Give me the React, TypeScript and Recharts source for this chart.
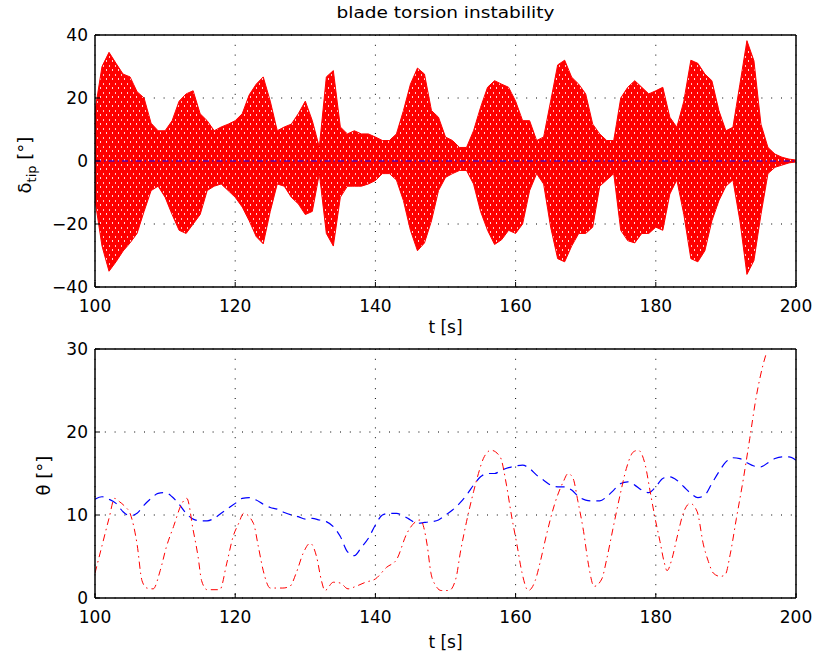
import React from 'react';
import { ComposedChart, LineChart, Area, Line, XAxis, YAxis, CartesianGrid } from 'recharts';

// time base (s) for the tip envelope and the blue theta trace
const tipTime = [
  100, 101, 102, 103, 104, 105, 106, 107, 108, 109, 110, 111, 112, 113, 114, 115, 116, 117, 118, 119,
  120, 121, 122, 123, 124, 125, 126, 127, 128, 129, 130, 131, 132, 133, 134, 135, 136, 137, 138, 139,
  140, 141, 142, 143, 144, 145, 146, 147, 148, 149, 150, 151, 152, 153, 154, 155, 156, 157, 158, 159,
  160, 161, 162, 163, 164, 165, 166, 167, 168, 169, 170, 171, 172, 173, 174, 175, 176, 177, 178, 179,
  180, 181, 182, 183, 184, 185, 186, 187, 188, 189, 190, 191, 192, 193, 194, 195, 196, 197, 198, 199,
  200,
];

// envelope of the red tip deflection signal (deg)
const tipUpper = [
  16, 30, 34.5, 31, 27.6, 26.7, 22, 20, 12, 9.6, 9.6, 12.8, 19, 21.3, 22.3, 15, 12.8, 9.6, 10.8, 11.7,
  12.8, 15, 21, 24.4, 26.7, 19, 9.6, 10.8, 11.7, 15, 19, 12.8, 4.4, 26.7, 28.7, 10.8, 8.6, 9.6, 8.6, 8.6,
  7.6, 6.5, 6.5, 8.6, 16, 24.4, 29.5, 27.6, 16, 13.9, 7.6, 6.5, 4.3, 4.3, 9.6, 17, 23.4, 25.5, 24.4, 23.4,
  19, 12.8, 12.8, 6.5, 7.6, 19, 30.5, 32, 26.6, 24.4, 21.3, 11.7, 8.6, 6.5, 6.5, 20, 23.4, 25.5, 23.4, 21.3,
  22.3, 23.4, 13.9, 10.7, 19, 32, 31, 27.6, 25.5, 16, 9.6, 10.7, 24.4, 38.2, 31.8, 11.7, 4.3, 2.2, 1.2, 0.6,
  0.3,
];
const tipLower = [
  -12.4, -27, -35, -32, -28.6, -26, -23, -16, -9.4, -8, -11.5, -17, -22, -23, -20, -17, -9.4, -8, -7.3, -9.4,
  -11.5, -14.6, -19, -24, -26.3, -16, -7.3, -8, -11.5, -13.6, -17, -16, -4, -23, -27, -11.5, -8, -8, -8, -7.3,
  -6.2, -4, -4, -6, -12.6, -22, -28.5, -26, -19, -9.4, -5.2, -4, -3, -3, -7.3, -16, -22, -26.5, -25, -22,
  -23, -20, -9.4, -4, -7.3, -21, -31, -32, -27, -23, -23, -21, -8, -6, -4, -22, -25.3, -26, -23, -23,
  -21, -22, -10.5, -6, -17, -31, -32, -28.5, -19, -12.6, -8, -6, -19, -36, -31.6, -17, -4, -2, -1.3, -0.6,
  -0.3,
];

// blue reference trace in the upper plot, sits at zero
const tipRefTime = [100, 110, 120, 130, 140, 150, 160, 170, 180, 190, 200];
const tipRefValue = [0, 0, 0, 0, 0, 0, 0, 0, 0, 0, 0];

// blue dashed theta (deg), sampled at tipTime
const thetaBlue = [
  11.9, 12.2, 11.9, 11.4, 10.4, 9.9, 10.2, 11.2, 12.0, 12.6, 12.7, 12.2, 11.3, 10.2, 9.5, 9.3, 9.3, 9.6, 10.2, 10.8,
  11.4, 12.0, 12.1, 11.8, 11.3, 10.9, 10.7, 10.3, 10.0, 9.8, 9.5, 9.6, 9.4, 9.2, 8.6, 7.4, 5.6, 5.1, 6.1, 7.2,
  8.8, 10.0, 10.2, 10.2, 9.9, 9.4, 9.0, 9.1, 9.2, 9.4, 10.0, 10.6, 11.4, 12.4, 13.6, 14.6, 15.0, 15.0, 15.4, 15.7,
  15.9, 16.0, 15.6, 14.8, 14.2, 13.6, 13.4, 13.4, 13.0, 12.2, 11.8, 11.7, 11.7, 12.2, 13.0, 13.8, 14.0, 13.6, 13.0, 12.7,
  13.4, 14.4, 14.6, 14.2, 13.4, 12.6, 12.1, 12.4, 13.8, 15.2, 16.4, 16.9, 16.8, 16.3, 15.9, 15.8, 16.3, 16.8, 17.0, 17.0,
  16.6,
];

// red dash-dot theta (deg)
const thetaRedTime = [
  100, 101, 102, 102.8, 103.5, 104.3, 105, 106, 106.7, 107.4, 108.3, 109.3, 110.2, 111.2, 112.4, 113.1, 114, 114.7,
  115.2, 116, 117.8, 118.8, 119.7, 120.5, 121.2, 122.6, 123.3, 124, 125, 126.8, 127.8, 128.7, 129.7, 130.7, 131.6,
  132.3, 132.8, 134, 135, 136.1, 137.2, 138.6, 140, 141.6, 143, 144.5, 146.4, 147.4, 147.9, 148.6, 149.4, 150.5,
  151.5, 152.1, 153, 154, 154.7, 155.4, 156.5, 157.8, 158.7, 159.4, 160.2, 160.9, 161.8, 162.8, 163.5, 164.4, 165.6,
  166.8, 167.5, 168.2, 168.9, 169.7, 170.4, 171.2, 172.3, 173, 173.9, 174.9, 175.8, 176.8, 177.5, 178.5, 179.2,
  179.9, 180.6, 181.2, 181.6, 182.3, 183, 184, 184.9, 185.9, 186.8, 187.5, 188.2, 189.2, 189.9, 190.6, 191.5,
  192.5, 193.4, 194.3, 195.3, 195.7,
];
const thetaRedValue = [
  3.0, 6.3, 9.6, 12.0, 11.6, 11.0, 10.2, 6.5, 2.1, 1.2, 1.1, 3.3, 6.2, 8.6, 11.4, 12.0, 8.2, 5.0,
  2.1, 1.0, 1.0, 4.2, 7.4, 9.0, 10.2, 9.0, 6.2, 3.3, 1.2, 1.2, 1.4, 3.0, 5.4, 6.6, 5.0,
  2.1, 0.9, 1.9, 1.8, 1.1, 1.4, 1.9, 2.3, 3.7, 4.6, 7.8, 9.4, 6.3, 3.1, 1.5, 0.9, 0.9,
  2.4, 5.4, 9.2, 12.8, 15.0, 16.8, 17.8, 17.0, 13.6, 10.0, 6.4, 3.1, 0.9, 2.1, 4.3, 7.6, 11.4,
  14.0, 15.0, 14.4, 11.6, 8.0, 4.0, 1.4, 2.3, 4.7, 8.4, 12.4, 15.6, 17.6, 17.8, 16.0, 12.8,
  9.6, 6.8, 4.3, 3.3, 4.7, 7.2, 10.4, 11.4, 10.4, 6.4, 4.4, 3.0, 2.6, 2.8, 5.2, 9.6,
  14.4, 19.2, 24.1, 28.1, 29.3,
];

const timeTicks = [100, 120, 140, 160, 180, 200];
const tipTicks = [-40, -20, 0, 20, 40];
const thetaTicks = [0, 10, 20, 30];

const tipData = tipTime.map((t, i) => ({ t, band: [tipLower[i], tipUpper[i]] }));
const tipRefData = tipRefTime.map((t, i) => ({ t, v: tipRefValue[i] }));
const thetaBlueData = tipTime.map((t, i) => ({ t, v: thetaBlue[i] }));
const thetaRedData = thetaRedTime.map((t, i) => ({ t, v: thetaRedValue[i] }));

const FONT = 'DejaVu Sans';
const tickStyle = { fill: '#000', fontSize: 17, fontFamily: FONT };
const fmt = (v: number) => (v < 0 ? `\u2212${Math.abs(v)}` : `${v}`);

const Title = ({ viewBox }: any) => (
  <text x={viewBox.x + viewBox.width / 2} y={viewBox.y - 16} textAnchor="middle" fontFamily={FONT}
    fontSize={15} textLength={218} lengthAdjust="spacingAndGlyphs" fill="#000">
    blade torsion instability
  </text>
);

const xLabel = (offset: number) => ({ viewBox }: any) => (
  <text x={viewBox.x + viewBox.width / 2} y={viewBox.y + offset} textAnchor="middle" fontFamily={FONT}
    fontSize={17} fill="#000">
    t [s]
  </text>
);

const TipLabel = ({ viewBox }: any) => {
  const x = viewBox.x + 31;
  const y = viewBox.y + viewBox.height / 2 + 4;
  return (
    <text x={x} y={y} textAnchor="middle" transform={`rotate(-90, ${x}, ${y})`} fontFamily={FONT}
      fontSize={18} fill="#000">
      δ<tspan dy={5} fontSize={13}>tip</tspan>
      <tspan dy={-5}> [°]</tspan>
    </text>
  );
};

const ThetaLabel = ({ viewBox }: any) => {
  const x = viewBox.x + 50;
  const y = viewBox.y + viewBox.height / 2 + 2;
  return (
    <text x={x} y={y} textAnchor="middle" transform={`rotate(-90, ${x}, ${y})`} fontFamily={FONT}
      fontSize={18} fill="#000">
      θ [°]
    </text>
  );
};

const axisLine = { stroke: '#000', strokeWidth: 1.5 };
const tickLine = { stroke: '#000' };

export default function App() {
  return (
    <div style={{ position: 'absolute', left: 0, top: 0, width: 817, height: 661, background: '#fff' }}>
      <div style={{ position: 'absolute', left: 0, top: 0 }}>
        <ComposedChart width={817} height={345} data={tipData} margin={{ top: 34, right: 20, bottom: 8, left: 0 }}>
          <defs>
            <pattern id="dense" patternUnits="userSpaceOnUse" width={6} height={9}>
              <rect width={6} height={9} fill="#ff0000" />
              <rect x={1} y={2} width={1} height={2} fill="#ffc4c4" />
              <rect x={4} y={6} width={1} height={2} fill="#ffd6d6" />
            </pattern>
          </defs>
          <CartesianGrid stroke="#000" strokeDasharray="1 8.8" />
          <XAxis dataKey="t" type="number" domain={[100, 200]} ticks={timeTicks} allowDataOverflow
            height={50} tickSize={-5} tickMargin={18} tick={tickStyle} axisLine={axisLine} tickLine={tickLine}
            label={xLabel(46)} />
          <XAxis xAxisId="top" orientation="top" dataKey="t" type="number" domain={[100, 200]} ticks={timeTicks}
            height={1} tickSize={-5} tick={false} axisLine={axisLine} tickLine={tickLine} label={Title} />
          <YAxis type="number" domain={[-40, 40]} ticks={tipTicks} allowDataOverflow width={95}
            tickSize={-5} tickMargin={12} tick={tickStyle} tickFormatter={fmt} axisLine={axisLine} tickLine={tickLine}
            label={TipLabel} />
          <YAxis yAxisId="right" orientation="right" type="number" domain={[-40, 40]} ticks={tipTicks} width={1}
            tickSize={-5} tick={false} axisLine={axisLine} tickLine={tickLine} />
          <Area dataKey="band" type="linear" stroke="#ff0000" strokeWidth={1} fill="url(#dense)" fillOpacity={1}
            isAnimationActive={false} dot={false} activeDot={false} />
          <Line data={tipRefData} dataKey="v" type="linear" stroke="#0000ff" strokeWidth={1.2}
            strokeDasharray="6 3 1.5 3" dot={false} activeDot={false} isAnimationActive={false} />
        </ComposedChart>
      </div>
      <div style={{ position: 'absolute', left: 0, top: 330 }}>
        <LineChart width={817} height={331} margin={{ top: 18, right: 20, bottom: 8, left: 0 }}>
          <CartesianGrid stroke="#000" strokeDasharray="1 8.8" />
          <XAxis dataKey="t" type="number" domain={[100, 200]} ticks={timeTicks} allowDataOverflow
            height={55} tickSize={-5} tickMargin={18} tick={tickStyle} axisLine={axisLine} tickLine={tickLine}
            label={xLabel(50)} />
          <XAxis xAxisId="top" orientation="top" dataKey="t" type="number" domain={[100, 200]} ticks={timeTicks}
            height={1} tickSize={-5} tick={false} axisLine={axisLine} tickLine={tickLine} />
          <YAxis type="number" domain={[0, 30]} ticks={thetaTicks} allowDataOverflow width={95}
            tickSize={-5} tickMargin={12} tick={tickStyle} tickFormatter={fmt} axisLine={axisLine} tickLine={tickLine}
            label={ThetaLabel} />
          <YAxis yAxisId="right" orientation="right" type="number" domain={[0, 30]} ticks={thetaTicks} width={1}
            tickSize={-5} tick={false} axisLine={axisLine} tickLine={tickLine} />
          <Line data={thetaBlueData} dataKey="v" type="monotone" stroke="#0000ff" strokeWidth={1.2}
            strokeDasharray="9 6" dot={false} activeDot={false} isAnimationActive={false} />
          <Line data={thetaRedData} dataKey="v" type="monotone" stroke="#ff0000" strokeWidth={1}
            strokeDasharray="7 4 1.5 4" dot={false} activeDot={false} isAnimationActive={false} />
        </LineChart>
      </div>
    </div>
  );
}
